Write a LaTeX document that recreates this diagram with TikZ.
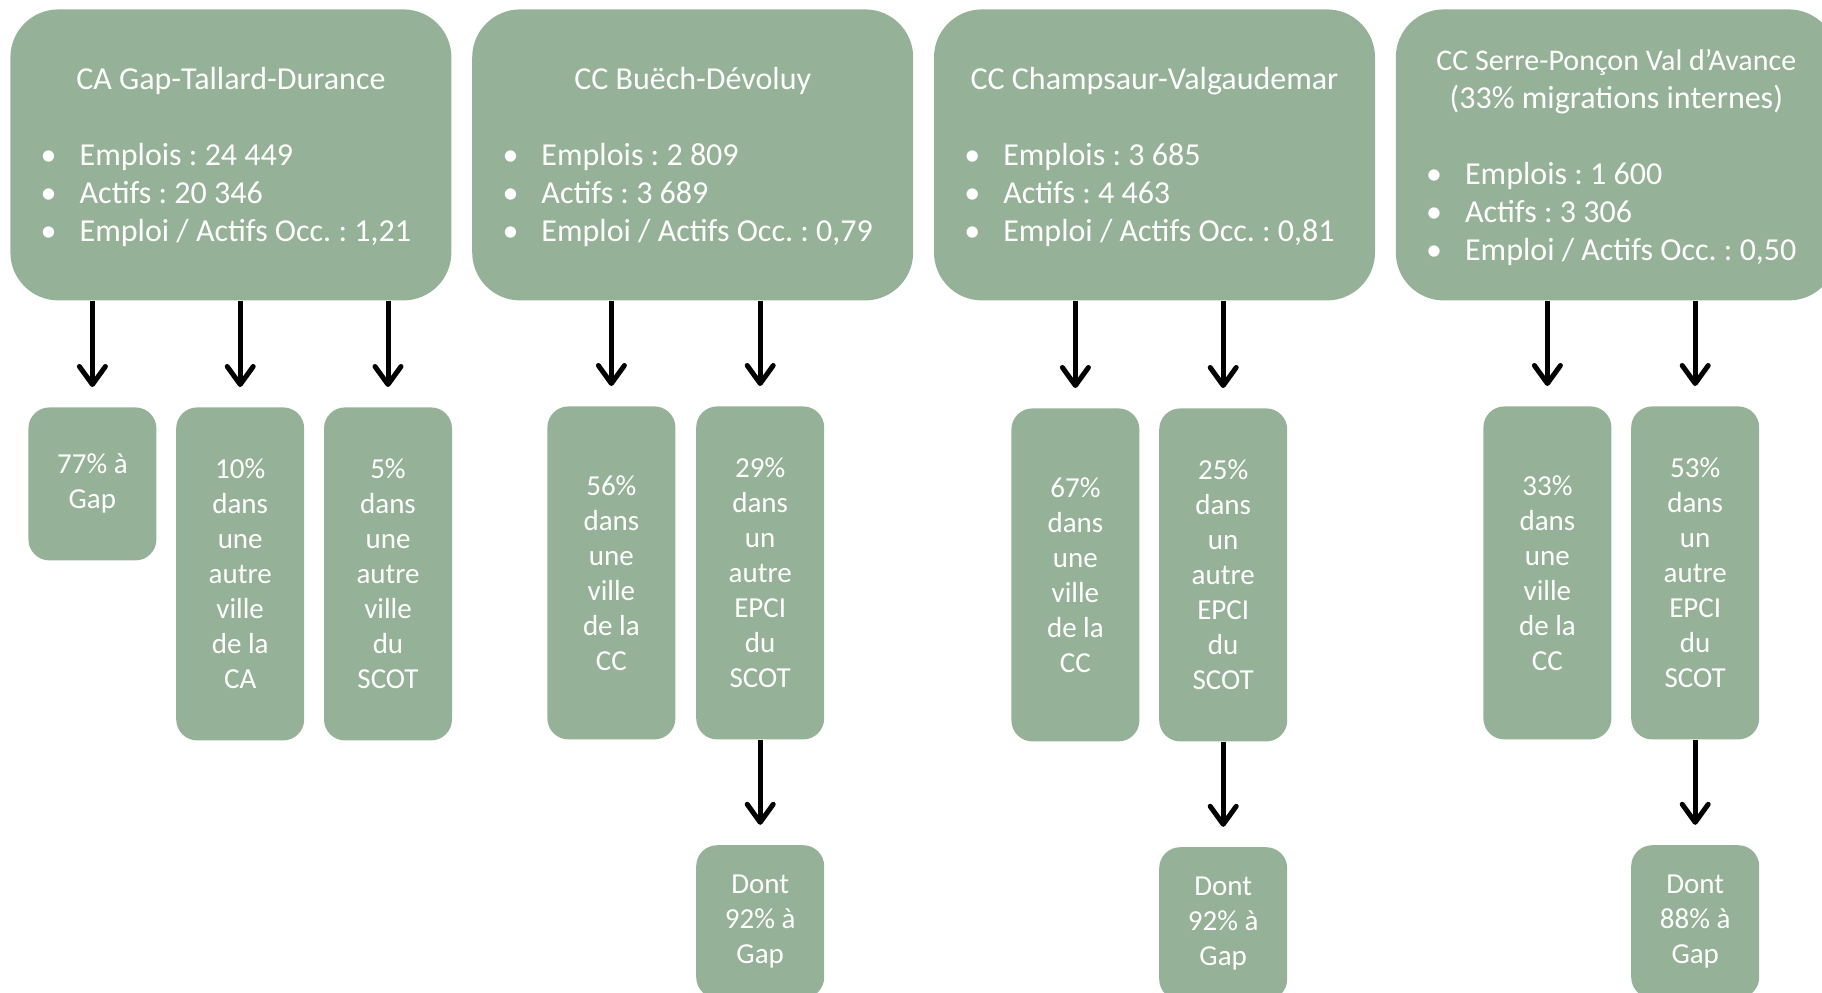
\documentclass[tikz,border=0pt]{standalone}
\usepackage{fontspec}
\setmainfont{Carlito}
\frenchspacing
\usepackage{tikz}
\usetikzlibrary{shapes,arrows,arrows.meta}
\usetikzlibrary{positioning}
\definecolor{sage}{RGB}{149,177,151}
\tikzstyle{epci} = [rectangle, rounded corners=24pt, fill=sage, text=white,
    minimum width=220.5pt, minimum height=145.5pt, inner sep=0pt, align=center,
    font=\fontsize{16}{19}\selectfont]
\tikzstyle{part} = [rectangle, rounded corners=10.5pt, fill=sage, text=white,
    minimum width=64pt, inner sep=0pt, align=center,
    font=\fontsize{14.5}{17.5}\selectfont]
\tikzstyle{short} = [part, minimum height=76.5pt]
\tikzstyle{tall} = [part, minimum height=166.5pt]
\tikzstyle{line} = [draw, line width=2.5pt, shorten >=10pt,
    -{Straight Barb[round,length=9pt,width=13pt]}]
\newcommand{\puce}{\makebox[17.5pt][l]{\hspace{-2pt}\textbullet}}
\newcommand{\haut}{\rule{0pt}{16.5pt}}
\newenvironment{puces}{\begin{tabular}[t]{@{}l@{\hspace{3pt}}}}{\end{tabular}}

\begin{document}
\begin{tikzpicture}[x=0.5pt,y=-0.5pt]
    \useasboundingbox (0,0) rectangle (1822,992);
    % Place nodes
    \node [epci, anchor=north west] (ca) at (10,9) {\haut CA Gap-Tallard-Durance\\[19pt]
        \begin{puces}\puce Emplois : 24 449\\ \puce Actifs : 20 346\\
        \puce Emploi / Actifs Occ. : 1,21\end{puces}};
    \node [epci, right=10pt of ca] (bd) {\haut CC Buëch-Dévoluy\\[19pt]
        \begin{puces}\puce Emplois : 2 809\\ \puce Actifs : 3 689\\
        \puce Emploi / Actifs Occ. : 0,79\end{puces}};
    \node [epci, right=10pt of bd] (cv) {\haut CC Champsaur-Valgaudemar\\[19pt]
        \begin{puces}\puce Emplois : 3 685\\ \puce Actifs : 4 463\\
        \puce Emploi / Actifs Occ. : 0,81\end{puces}};
    \node [epci, right=10pt of cv] (sp) {\fontsize{15}{18.5}\selectfont
        \haut CC Serre-Ponçon Val d’Avance\\(33\% migrations internes)\\[19pt]
        \fontsize{16}{19}\selectfont
        \begin{puces}\puce Emplois : 1 600\\ \puce Actifs : 3 306\\
        \puce Emploi / Actifs Occ. : 0,50\end{puces}};
    % CA
    \node [short, anchor=north west] (gap77) at (28,407) {77\% à\\Gap};
    \node [tall, right=9.5pt of gap77.north east, anchor=north west] (ca10)
        {10\%\\dans\\une\\autre\\ville\\de la\\CA};
    \node [tall, right=9.5pt of ca10] (ca5) {5\%\\dans\\une\\autre\\ville\\du\\SCOT};
    % Buech
    \node [tall, anchor=north west] (bd56) at (547,406) {56\%\\dans\\une\\ville\\de la\\CC};
    \node [tall, right=10pt of bd56] (bd29) {29\%\\dans\\un\\autre\\EPCI\\du\\SCOT};
    \node [short, below=52.5pt of bd29] (bdgap) {Dont\\92\% à\\Gap};
    % Champsaur
    \node [tall, anchor=north west] (cv67) at (1011,408) {67\%\\dans\\une\\ville\\de la\\CC};
    \node [tall, right=9.5pt of cv67] (cv25) {25\%\\dans\\un\\autre\\EPCI\\du\\SCOT};
    \node [short, below=52.5pt of cv25] (cvgap) {Dont\\92\% à\\Gap};
    % Serre-Poncon
    \node [tall, anchor=north west] (sp33) at (1483,406) {33\%\\dans\\une\\ville\\de la\\CC};
    \node [tall, right=9.5pt of sp33] (sp53) {53\%\\dans\\un\\autre\\EPCI\\du\\SCOT};
    \node [short, below=52.5pt of sp53] (spgap) {Dont\\88\% à\\Gap};
    % Draw edges
    \path [line] (ca.south -| gap77.north) -- (gap77.north);
    \path [line] (ca.south -| ca10.north) -- (ca10.north);
    \path [line] (ca.south -| ca5.north) -- (ca5.north);
    \path [line] (bd.south -| bd56.north) -- (bd56.north);
    \path [line] (bd.south -| bd29.north) -- (bd29.north);
    \path [line] (bd29) -- (bdgap);
    \path [line] (cv.south -| cv67.north) -- (cv67.north);
    \path [line] (cv.south -| cv25.north) -- (cv25.north);
    \path [line] (cv25) -- (cvgap);
    \path [line] (sp.south -| sp33.north) -- (sp33.north);
    \path [line] (sp.south -| sp53.north) -- (sp53.north);
    \path [line] (sp53) -- (spgap);
\end{tikzpicture}
\end{document}
